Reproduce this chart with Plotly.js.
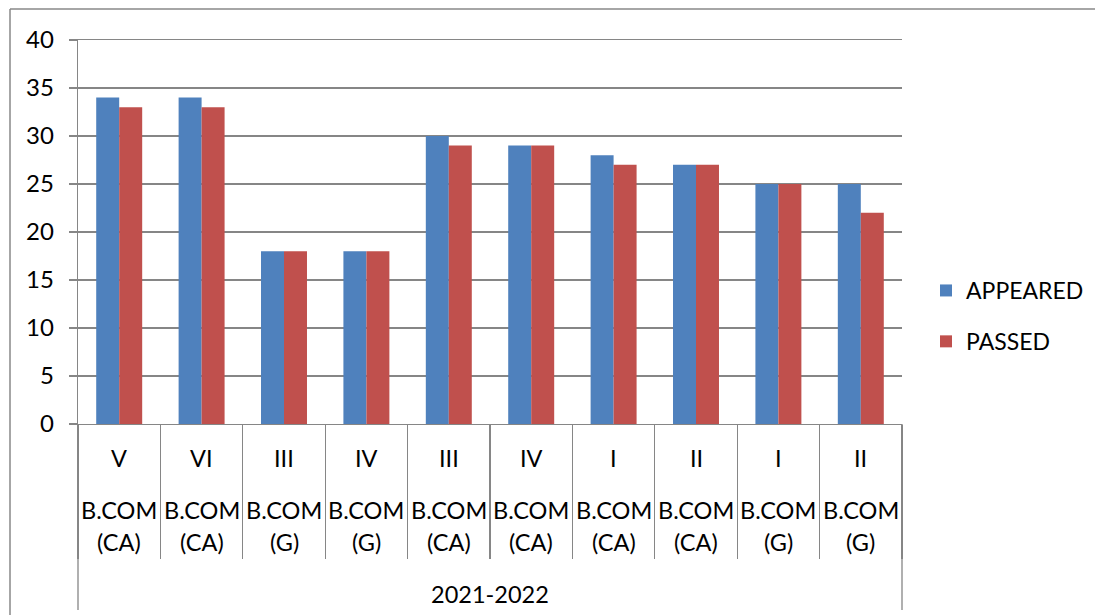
<!DOCTYPE html>
<html>
<head>
<meta charset="utf-8">
<script src="https://cdn.plot.ly/plotly-3.0.1.min.js"></script>
<style>
  html, body { margin: 0; padding: 0; background: #fff; }
  #chart { width: 1095px; height: 615px; }
</style>
</head>
<body>
<div id="chart"></div>
<script>
// ---- data ----
const semesters = ["V", "VI", "III", "IV", "III", "IV", "I", "II", "I", "II"];
const courses = ["B.COM (CA)", "B.COM (CA)", "B.COM (G)", "B.COM (G)", "B.COM (CA)", "B.COM (CA)", "B.COM (CA)", "B.COM (CA)", "B.COM (G)", "B.COM (G)"];
const yearLabel = "2021-2022";
const appeared = [34, 34, 18, 18, 30, 29, 28, 27, 25, 25];
const passed = [33, 33, 18, 18, 29, 29, 27, 27, 25, 22];
const yTicks = [0, 5, 10, 15, 20, 25, 30, 35, 40];

// ---- layout helpers (pixel geometry of the frame) ----
const W = 1095, H = 615;
const plotL = 78, plotR = 902, plotT = 40, plotB = 424;
const pw = plotR - plotL, ph = plotB - plotT;
const px = x => (x - plotL) / pw;
const py = y => (plotB - y) / ph;

const categories = semesters.map((s, i) => s + " " + courses[i]);
const FONT = "Lato, 'Open Sans', sans-serif";
const GRAY = "#868686";
const LBL = 23.5;

const traces = [
  { type: "bar", name: "APPEARED", legendgroup: "a", x: categories, y: appeared, marker: { color: "#4F81BD" } },
  { type: "bar", name: "PASSED", legendgroup: "p", x: categories, y: passed, marker: { color: "#C0504D" } }
];

const annotations = [];
categories.forEach((c, i) => {
  const parts = courses[i].split(" ");
  [[semesters[i], 458], [parts[0], 510], [parts[1], 542]].forEach(([t, y]) => {
    annotations.push({ xref: "x", yref: "paper", x: c, y: py(y), text: t, showarrow: false,
      xanchor: "center", yanchor: "middle", font: { family: FONT, size: LBL, color: "#000" } });
  });
});
annotations.push({ xref: "paper", yref: "paper", x: 0.5, y: py(594), text: yearLabel, showarrow: false,
  xanchor: "center", yanchor: "middle", font: { family: FONT, size: LBL, color: "#000" } });

const shapes = [
  // outer extension of the category axis frame
  { type: "line", xref: "paper", yref: "paper", x0: 0, x1: 0, y0: 0, y1: py(610), line: { color: GRAY, width: 1.3 } },
  { type: "line", xref: "paper", yref: "paper", x0: 1, x1: 1, y0: 0, y1: py(610), line: { color: GRAY, width: 1.3 } },
  // chart border (top & left)
  { type: "line", xref: "paper", yref: "paper", x0: px(10), x1: px(W), y0: py(9), y1: py(9), line: { color: "#888", width: 1.5 } },
  { type: "line", xref: "paper", yref: "paper", x0: px(10), x1: px(10), y0: py(9), y1: py(H), line: { color: "#888", width: 1.5 } }
];

const layout = {
  width: W, height: H,
  margin: { l: plotL, r: W - plotR, t: plotT, b: H - plotB, pad: 0, autoexpand: false },
  paper_bgcolor: "#fff", plot_bgcolor: "#fff",
  font: { family: FONT, size: LBL, color: "#000" },
  barmode: "group", bargap: 0.442, bargroupgap: 0,
  showlegend: true,
  legend: { x: px(926), y: py(316), xanchor: "left", yanchor: "middle", font: { family: FONT, size: 23, color: "#000" },
    traceorder: "grouped", tracegroupgap: 18, bgcolor: "rgba(0,0,0,0)" },
  xaxis: {
    type: "category", range: [-0.5, categories.length - 0.5], showticklabels: false,
    showgrid: false, zeroline: false, showline: true, mirror: true, linecolor: GRAY, linewidth: 1.3,
    ticks: "outside", tickson: "boundaries", ticklen: 134, tickcolor: GRAY, tickwidth: 1.3
  },
  yaxis: {
    range: [0, 40], tickvals: yTicks, ticktext: yTicks.map(String),
    showgrid: true, gridcolor: GRAY, gridwidth: 1.3, zeroline: false,
    showline: true, linecolor: GRAY, linewidth: 1.3,
    ticks: "outside", ticklen: 8, tickcolor: GRAY, tickwidth: 1.3,
    ticklabelstandoff: 10, tickfont: { family: FONT, size: 24, color: "#000" }
  },
  annotations: annotations,
  shapes: shapes
};

Plotly.newPlot("chart", traces, layout, { displayModeBar: false, staticPlot: true });
</script>
</body>
</html>
